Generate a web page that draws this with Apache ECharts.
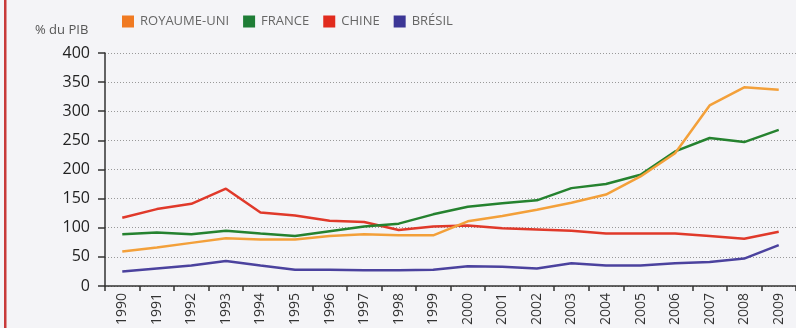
<!DOCTYPE html>
<html><head><meta charset="utf-8">
<script src="https://cdn.jsdelivr.net/npm/echarts@6/dist/echarts.min.js"></script>
<style>html,body{margin:0;padding:0;background:#f4f4f7;}#c{width:796px;height:328px;}</style>
</head><body><div id="c"></div>
<script>
const years = ['1990','1991','1992','1993','1994','1995','1996','1997','1998','1999','2000','2001','2002','2003','2004','2005','2006','2007','2008','2009'];
const royaumeUni = [59,66,74,82,80,80,86,89,87,87,111,120,131,143,157,188,228,310,341,337];
const france = [89,92,89,95,90,86,94,102,107,123,136,142,147,168,175,191,231,254,247,268];
const chine = [117,132,141,167,126,121,112,110,96,102,104,99,97,95,90,90,90,86,81,93];
const bresil = [25,30,35,43,35,28,28,27,27,28,34,33,30,39,35,35,39,41,47,70];
const yTicks = [0,50,100,150,200,250,300,350,400];

const chart = echarts.init(document.getElementById('c'));
const font = 'Open Sans';
function ser(name, data, color, lineColor){
  return {name, type:'line', data, symbol:'none', smooth:false,
    itemStyle:{color}, lineStyle:{color:lineColor, width:2.5}};
}
chart.setOption({
  backgroundColor:'#f4f4f7',
  animation:false,
  graphic:[
    {type:'rect', shape:{x:4,y:0,width:2.5,height:328}, style:{fill:'#c83a3a'}},
    {type:'text', left:35, top:24, style:{text:'% du PIB', fill:'#555', font:'13px "Open Sans"'}}
  ],
  legend:{left:117, top:10, icon:'rect', itemWidth:12, itemHeight:12, itemGap:14,
    textStyle:{color:'#666', fontSize:13, fontFamily:font, padding:[0,0,0,1]},
    data:['ROYAUME-UNI','FRANCE','CHINE','BRÉSIL']},
  grid:{left:105, right:-8, top:53, bottom:41, containLabel:false},
  xAxis:{type:'category', data:years, boundaryGap:true,
    axisLine:{lineStyle:{color:'#333', width:1.5}},
    axisTick:{show:true, length:5, lineStyle:{color:'#333', width:1.5}},
    axisLabel:{rotate:90, color:'#333', fontSize:14, fontFamily:font, margin:7, interval:0},
    splitLine:{show:false}},
  yAxis:{type:'value', min:0, max:400, interval:50,
    axisLine:{show:true, lineStyle:{color:'#333', width:1.5}},
    axisTick:{show:true, inside:false, length:7, lineStyle:{color:'#333', width:1.5}},
    axisLabel:{color:'#222', fontSize:16, fontFamily:font, margin:15},
    splitLine:{show:true, lineStyle:{type:[1,2], color:'#999', width:1}}},
  series:[
    ser('BRÉSIL', bresil, '#3c3696', '#4b429e'),
    ser('CHINE', chine, '#e12b1e', '#e0392a'),
    ser('FRANCE', france, '#1f7d36', '#25822f'),
    ser('ROYAUME-UNI', royaumeUni, '#f07a22', '#f3a03a')
  ]
});
</script></body></html>
